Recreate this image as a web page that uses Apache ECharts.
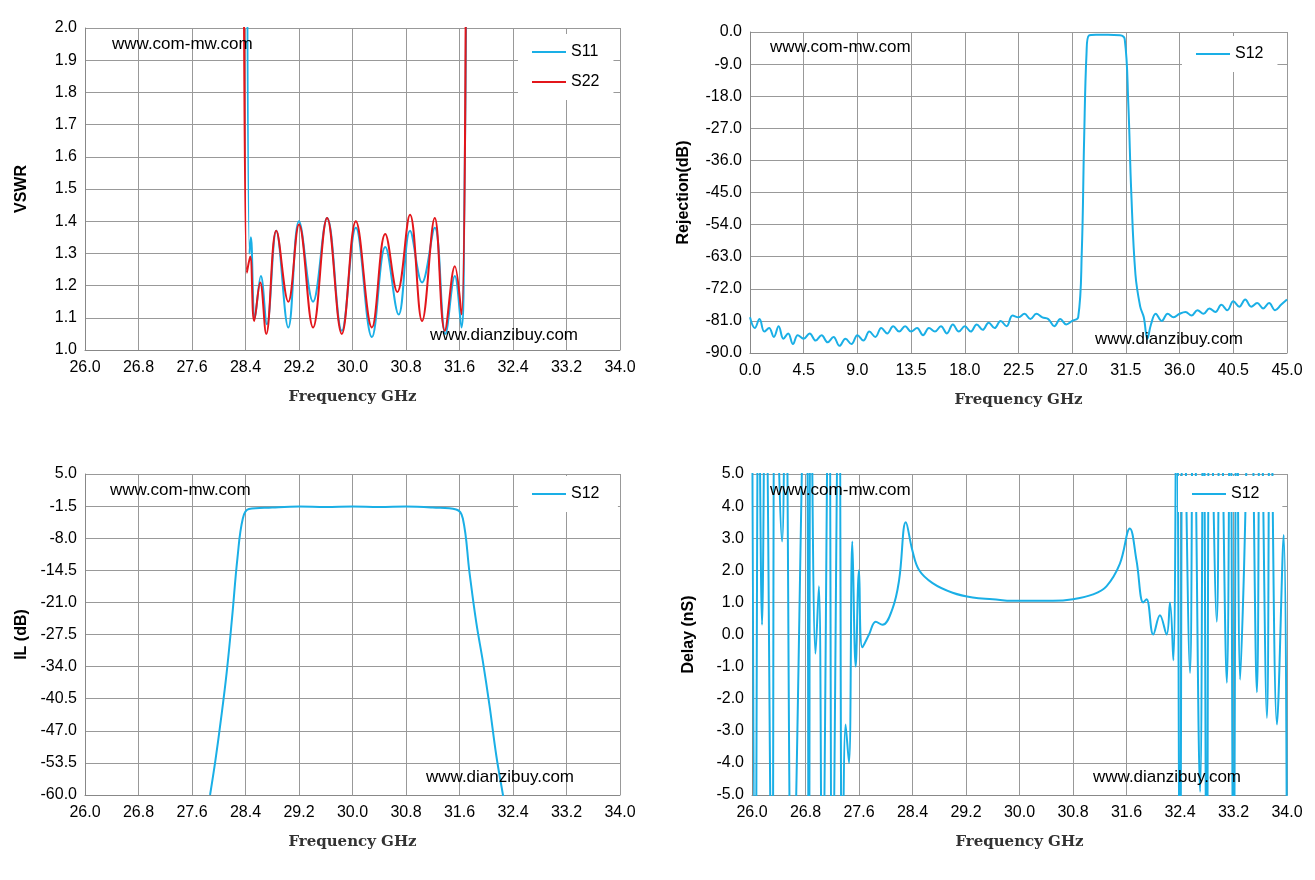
<!DOCTYPE html><html><head><meta charset="utf-8">
<script src="https://cdn.jsdelivr.net/npm/echarts@6/dist/echarts.min.js"></script>
<style>html,body{margin:0;background:#fff}#c{width:1315px;height:880px}</style></head><body><div id="c"></div>
<script>
const s11=[[28.42,2.6],[28.46,1.3],[28.48,1.35],[28.54,1.1],[28.63,1.23],[28.72,1.08],[28.86,1.37],[29.04,1.07],[29.2,1.40],[29.41,1.15],[29.62,1.41],[29.84,1.06],[30.05,1.38],[30.29,1.04],[30.49,1.32],[30.69,1.11],[30.86,1.37],[31.04,1.21],[31.23,1.38],[31.39,1.05],[31.53,1.23],[31.63,1.07],[31.67,1.4],[31.72,2.6]];
const s22=[[28.37,2.6],[28.42,1.24],[28.47,1.29],[28.53,1.09],[28.62,1.21],[28.71,1.05],[28.86,1.37],[29.04,1.15],[29.2,1.39],[29.41,1.07],[29.62,1.41],[29.84,1.05],[30.05,1.40],[30.29,1.07],[30.49,1.36],[30.67,1.18],[30.86,1.42],[31.04,1.09],[31.23,1.41],[31.38,1.06],[31.53,1.26],[31.63,1.11],[31.7,2.6]];
const rej=[[0,-80],[0.4,-83],[0.8,-80.5],[1.2,-84],[1.6,-83],[2.0,-85.5],[2.4,-82.5],[2.8,-86],[3.2,-84.5],[3.6,-87.5],[4.0,-85],[4.5,-86],[5.0,-84.5],[5.5,-86.5],[6.0,-85],[6.5,-87],[7.0,-85.5],[7.5,-88],[8.0,-86],[8.5,-87.5],[9.0,-85],[9.5,-86.5],[10,-84],[10.5,-85.5],[11,-83],[11.5,-84.5],[12,-82.5],[12.5,-84],[13,-82.5],[13.5,-84],[14,-83],[14.5,-85],[15,-83],[15.5,-84],[16,-82.5],[16.5,-84.5],[17,-82],[17.5,-84],[18,-82.5],[18.5,-84],[19,-82],[19.5,-83.5],[20,-81.5],[20.5,-83],[21,-81],[21.5,-82.5],[22,-79.5],[22.5,-80],[23,-79],[23.5,-80.5],[24,-79],[24.5,-80],[25,-80.5],[25.5,-82.5],[26,-80.5],[26.5,-82],[27.0,-81],[27.5,-80],[27.8,-62],[28.0,-30],[28.2,-6],[28.4,-1],[29,-0.8],[30,-0.8],[31,-0.9],[31.4,-2],[31.7,-20],[31.95,-45],[32.3,-68],[32.7,-77],[33.0,-80],[33.3,-86],[33.6,-82],[34,-79],[34.5,-81],[35,-79],[35.5,-80],[36,-79],[36.5,-78.5],[37,-79.5],[37.5,-78],[38,-79],[38.5,-77.5],[39,-78.5],[39.5,-76.5],[40,-78],[40.5,-75.5],[41,-77],[41.5,-75],[42,-77],[42.5,-76],[43,-77.5],[43.5,-76],[44,-78],[44.5,-76.5],[45,-75]];
const il=[[27.87,-60],[27.95,-53],[28.03,-45],[28.12,-35],[28.2,-24],[28.28,-12],[28.36,-4],[28.45,-2.1],[28.8,-1.8],[29.2,-1.6],[29.6,-1.7],[30.0,-1.6],[30.4,-1.7],[30.8,-1.6],[31.2,-1.8],[31.55,-2.2],[31.65,-4],[31.75,-15],[31.85,-25],[31.95,-33],[32.05,-42],[32.15,-52],[32.25,-60],[32.3,-64]];
const dly=[[26.0,9],[26.05,-9],[26.1,9],[26.15,0.3],[26.2,9],[26.3,-9],[26.35,9],[26.45,2.9],[26.5,9],[26.6,-9],[26.8,9],[26.85,-9],[26.88,9],[26.95,-0.6],[27.0,1.5],[27.05,-9],[27.15,9],[27.2,-9],[27.3,9],[27.35,-9],[27.4,-2.8],[27.45,-4],[27.5,2.9],[27.55,-1],[27.6,2],[27.65,-0.4],[27.75,0],[27.85,0.4],[27.95,0.3],[28.1,0.8],[28.2,1.7],[28.3,3.5],[28.4,2.6],[28.5,2.0],[28.7,1.6],[29.0,1.3],[29.3,1.15],[29.6,1.1],[29.9,1.05],[30.2,1.05],[30.5,1.05],[30.8,1.1],[31.1,1.25],[31.3,1.5],[31.5,2.2],[31.65,3.3],[31.75,2.3],[31.85,1.0],[31.9,1.1],[32.0,0.0],[32.1,0.6],[32.2,0.0],[32.25,1.0],[32.3,-0.8],[32.35,9],[32.4,-9],[32.45,9],[32.55,-1.2],[32.6,9],[32.7,-4.9],[32.75,9],[32.8,-9],[32.85,9],[32.95,0.4],[33.0,9],[33.1,-1.5],[33.15,9],[33.2,-9],[33.25,9],[33.3,-1.4],[33.35,1.5],[33.45,9],[33.55,-1.8],[33.6,9],[33.7,-2.6],[33.75,9],[33.85,-2.8],[33.95,3.1],[34.0,-9]];
const fx=v=>v.toFixed(1);
const ax={fontFamily:'Liberation Sans',fontSize:16,color:'#000'};
function xA(i,min,max,iv){return {type:'value',gridIndex:i,min,max,interval:iv,name:'Frequency GHz',nameLocation:'middle',nameGap:40,nameTextStyle:{fontFamily:'DejaVu Serif',fontWeight:'bold',fontSize:15,color:'#333'},axisLabel:Object.assign({formatter:fx,margin:10},ax),axisLine:{onZero:false,lineStyle:{color:'#888'}},axisTick:{show:false},splitLine:{show:true,lineStyle:{color:'#999'}}};}
function yA(i,min,max,iv,name,gap){return {type:'value',gridIndex:i,min,max,interval:iv,name,nameLocation:'middle',nameGap:gap,nameTextStyle:{fontFamily:'Liberation Sans',fontWeight:'bold',fontSize:16,color:'#000'},axisLabel:Object.assign({formatter:fx},ax),axisLine:{show:true,lineStyle:{color:'#888'}},axisTick:{show:false},splitLine:{lineStyle:{color:'#999'}}};}
const B='#1AAFE6',R='#E3161B';
function ser(name,data,i,c){return {type:'line',name,data,xAxisIndex:i,yAxisIndex:i,smooth:0.4,showSymbol:false,symbol:'none',lineStyle:{width:2,color:c},itemStyle:{color:c},clip:true};}
function lg(names,l,t){return {data:names,orient:'vertical',left:l,top:t,backgroundColor:'#fff',padding:[10,14],itemGap:14,itemWidth:34,itemHeight:2,icon:'rect',textStyle:{fontFamily:'Liberation Sans',fontSize:16,color:'#000'}};}
function txt(x,y,t){return {type:'text',left:x,top:y,z:100,style:{text:t,font:'17px "Liberation Sans"',fill:'#000'}};}
const ch=echarts.init(document.getElementById('c'));
ch.setOption({animation:false,
grid:[{left:85,top:28,width:535,height:322},{left:750,top:32,width:537,height:321},{left:85,top:474,width:535,height:321},{left:752,top:474,width:535,height:321}],
xAxis:[xA(0,26,34,0.8),xA(1,0,45,4.5),xA(2,26,34,0.8),xA(3,26,34,0.8)],
yAxis:[yA(0,1,2,0.1,'VSWR',55),yA(1,-90,0,9,'Rejection(dB)',58),yA(2,-60,5,6.5,'IL (dB)',55),yA(3,-5,5,1,'Delay (nS)',55)],
legend:[lg(['S11','S22'],518,34),lg(['S12'],1182,36),lg(['S12 '],518,476),lg(['S12  '],1178,476)],
series:[ser('S11',s11,0,B),ser('S22',s22,0,R),ser('S12',rej,1,B),ser('S12 ',il,2,B),ser('S12  ',dly,3,B)],
graphic:[txt(112,36,'www.com-mw.com'),txt(430,327,'www.dianzibuy.com'),txt(770,39,'www.com-mw.com'),txt(1095,331,'www.dianzibuy.com'),txt(110,482,'www.com-mw.com'),txt(426,769,'www.dianzibuy.com'),txt(770,482,'www.com-mw.com'),txt(1093,769,'www.dianzibuy.com')]
});
</script></body></html>
